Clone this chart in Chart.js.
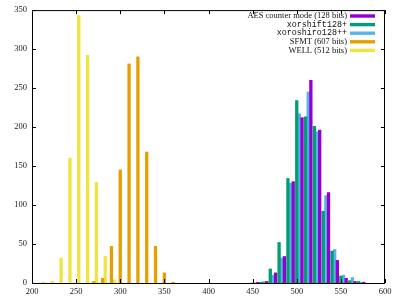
<!DOCTYPE html>
<html>
<head>
<meta charset="utf-8">
<script src="https://cdn.jsdelivr.net/npm/chart.js@4/dist/chart.umd.min.js"></script>
<style>
    body { margin: 0; background: #fff; }
    #wrap { width: 400px; height: 300px; }
</style>
</head>
<body>
<div id="wrap"><canvas id="histChart" width="400" height="300"></canvas></div>
<script>
// 直方图数据（每个区间宽 10）
const fastBins = [450, 460, 470, 480, 490, 500, 510, 520, 530, 540, 550, 560, 570];
const aesCounts = [1, 2, 13, 34, 130, 212, 260, 196, 116, 29, 6, 2, 1];
const xorshiftCounts = [0, 1, 18, 52, 134, 234, 213, 201, 92, 41, 9, 3, 2];
const xoroshiroCounts = [0, 2, 10, 32, 128, 217, 245, 194, 112, 43, 10, 7, 1];

const sfmtBins = [270, 280, 290, 300, 310, 320, 330, 340, 350, 360];
const sfmtCounts = [2, 6, 47, 145, 281, 290, 168, 47, 13, 1];

const wellBins = [210, 220, 230, 240, 250, 260, 270, 280, 290];
const wellCounts = [1, 2, 32, 160, 343, 292, 129, 34, 4];

// 每个系列在区间内的偏移
const seriesNames = ['AES counter mode (128 bits)', 'xorshift128+', 'xoroshiro128++', 'SFMT (607 bits)', 'WELL (512 bits)'];
const seriesShift = [6, 0, 3, 0, 3];

const xTicks = [200, 250, 300, 350, 400, 450, 500, 550, 600];
const yTicks = [0, 50, 100, 150, 200, 250, 300, 350];

function toPoints(bins, counts, shift) {
    return bins.map((b, i) => ({ x: b + shift, y: counts[i] }));
}

const serifFont = '8.5px "Liberation Serif", "DejaVu Serif", serif';
const monoFont = '8.4px "Liberation Mono", "DejaVu Sans Mono", monospace';

// 边框、内向刻度和图例
const frameLegend = {
    id: 'frameLegend',
    afterDraw(chart) {
        const ctx = chart.ctx;
        const a = chart.chartArea;
        const xs = chart.scales.x;
        const ys = chart.scales.y;
        ctx.save();
        ctx.strokeStyle = '#000';
        ctx.lineWidth = 1;
        ctx.strokeRect(a.left + 0.5, a.top + 0.5, a.right - a.left - 1, a.bottom - a.top);

        ctx.beginPath();
        xTicks.forEach(v => {
            const px = Math.round(xs.getPixelForValue(v)) + 0.5;
            ctx.moveTo(px, a.bottom);
            ctx.lineTo(px, a.bottom - 4);
            ctx.moveTo(px, a.top);
            ctx.lineTo(px, a.top + 4);
        });
        yTicks.forEach(v => {
            const py = Math.round(ys.getPixelForValue(v)) + 0.5;
            ctx.moveTo(a.left, py);
            ctx.lineTo(a.left + 4, py);
            ctx.moveTo(a.right, py);
            ctx.lineTo(a.right - 4, py);
        });
        ctx.stroke();

        // 图例
        ctx.textAlign = 'right';
        ctx.textBaseline = 'middle';
        chart.data.datasets.forEach((ds, i) => {
            const y = 16 + i * 8.6;
            ctx.font = ds.legendFont;
            ctx.fillStyle = '#111';
            ctx.fillText(ds.label, 347, y);
            ctx.fillStyle = ds.backgroundColor;
            ctx.fillRect(350, y - 1.7, 25, 3.4);
        });
        ctx.restore();
    }
};

document.addEventListener('DOMContentLoaded', function() {
    const ctx = document.getElementById('histChart');
    const colors = ['#9400d3', '#009e73', '#56b4e9', '#e69f00', '#f0e442'];
    const pointSets = [
        toPoints(fastBins, aesCounts, seriesShift[0]),
        toPoints(fastBins, xorshiftCounts, seriesShift[1]),
        toPoints(fastBins, xoroshiroCounts, seriesShift[2]),
        toPoints(sfmtBins, sfmtCounts, seriesShift[3]),
        toPoints(wellBins, wellCounts, seriesShift[4])
    ];

    new Chart(ctx.getContext('2d'), {
        type: 'bar',
        data: {
            datasets: pointSets.map((pts, i) => ({
                label: seriesNames[i],
                data: pts,
                backgroundColor: colors[i],
                borderWidth: 0,
                barThickness: 2.65,
                grouped: false,
                legendFont: (i === 1 || i === 2) ? monoFont : serifFont
            }))
        },
        options: {
            responsive: false,
            animation: false,
            layout: { padding: { top: 8, right: 15, left: 0, bottom: 0 } },
            plugins: {
                legend: { display: false },
                tooltip: { enabled: false }
            },
            scales: {
                x: {
                    type: 'linear',
                    offset: false,
                    min: 200,
                    max: 600,
                    afterBuildTicks: s => { s.ticks = xTicks.map(v => ({ value: v })); },
                    afterFit: s => { s.height = 17; },
                    grid: { display: false, drawTicks: false },
                    border: { display: false },
                    ticks: {
                        autoSkip: false,
                        maxRotation: 0,
                        padding: 4,
                        color: '#222',
                        font: { family: '"Liberation Serif", serif', size: 8.5 }
                    }
                },
                y: {
                    min: 0,
                    max: 350,
                    afterBuildTicks: s => { s.ticks = yTicks.map(v => ({ value: v })); },
                    afterFit: s => { s.width = 32; },
                    grid: { display: false, drawTicks: false },
                    border: { display: false },
                    ticks: {
                        padding: 5,
                        color: '#222',
                        font: { family: '"Liberation Serif", serif', size: 8.5 }
                    }
                }
            }
        },
        plugins: [frameLegend]
    });
});
</script>
</body>
</html>
